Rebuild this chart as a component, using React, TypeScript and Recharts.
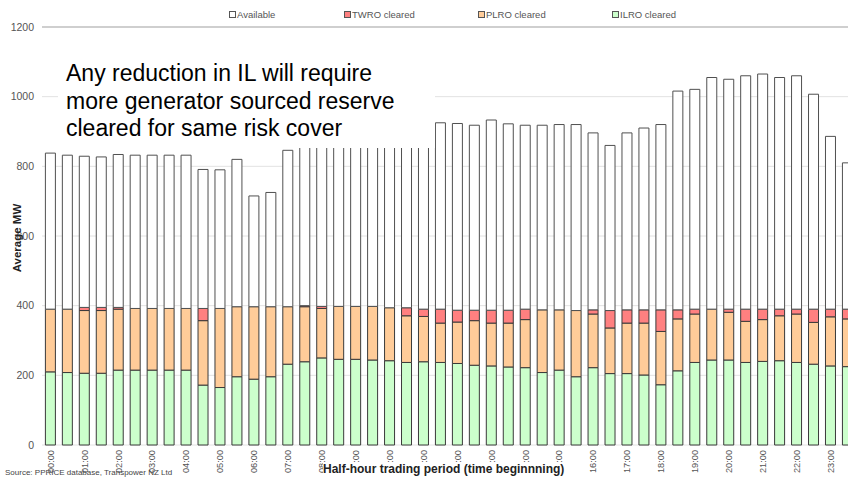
import React from "react";
import { BarChart, Bar, XAxis, YAxis, CartesianGrid, ReferenceLine } from "recharts";

const PERIODS = [
  "00:00", "00:30", "01:00", "01:30", "02:00", "02:30", "03:00", "03:30",
  "04:00", "04:30", "05:00", "05:30", "06:00", "06:30", "07:00", "07:30",
  "08:00", "08:30", "09:00", "09:30", "10:00", "10:30", "11:00", "11:30",
  "12:00", "12:30", "13:00", "13:30", "14:00", "14:30", "15:00", "15:30",
  "16:00", "16:30", "17:00", "17:30", "18:00", "18:30", "19:00", "19:30",
  "20:00", "20:30", "21:00", "21:30", "22:00", "22:30", "23:00", "23:30",
];

// ILRO (interruptible load) cleared, MW
const ILRO = [
  210, 208, 206, 206, 215, 215, 215, 215, 215, 172, 165, 196, 189, 196, 232, 239,
  250, 246, 246, 244, 242, 237, 239, 237, 234, 229, 227, 224, 222, 208, 215, 196,
  222, 205, 205, 201, 173, 213, 237, 244, 244, 237, 240, 242, 237, 232, 227, 225,
];

// PLRO cleared, MW
const PLRO = [
  180, 182, 180, 180, 175, 177, 177, 177, 177, 185, 227, 201, 208, 201, 165, 158,
  142, 152, 152, 154, 152, 134, 130, 113, 119, 128, 123, 126, 138, 180, 173, 190,
  154, 131, 145, 149, 153, 149, 139, 146, 137, 118, 120, 129, 139, 120, 141, 137,
];

// TWRO cleared, MW
const TWRO = [
  0, 0, 9, 9, 5, 0, 0, 0, 0, 35, 0, 0, 0, 0, 0, 3,
  6, 0, 0, 0, 0, 23, 21, 40, 34, 30, 37, 37, 30, 0, 0, 0,
  12, 50, 38, 38, 62, 26, 14, 0, 9, 35, 30, 19, 14, 38, 22, 28,
];

// Available (uncleared) reserve offers, MW
const AVAILABLE = [
  448, 442, 434, 432, 439, 440, 440, 440, 440, 399, 398, 423, 318, 328, 449, 530,
  527, 537, 522, 527, 536, 541, 540, 535, 536, 531, 546, 535, 528, 530, 532, 534,
  508, 474, 508, 522, 532, 628, 631, 665, 660, 670, 675, 665, 670, 617, 496, 420,
];

const Y_TICKS = [0, 200, 400, 600, 800, 1000, 1200];

const LEGEND = [
  { label: "Available", color: "#ffffff", left: 229 },
  { label: "TWRO cleared", color: "#ff8080", left: 344 },
  { label: "PLRO cleared", color: "#ffcc99", left: 478 },
  { label: "ILRO cleared", color: "#ccffcc", left: 612 },
];

const data = PERIODS.map((p, i) => ({
  period: p,
  ilro: ILRO[i],
  plro: PLRO[i],
  twro: TWRO[i],
  available: AVAILABLE[i],
}));

const EDGE_TICKS = PERIODS.map((_, i) => i).concat([PERIODS.length]);

const FONT = '"Liberation Sans", Arial, sans-serif';

function PeriodTick(props: any) {
  const { x, y, payload } = props;
  if (!String(payload.value).endsWith(":00")) return <g />;
  const ty = y + 5;
  return (
    <text
      x={x}
      y={ty}
      dy="0.35em"
      transform={`rotate(-90 ${x} ${ty})`}
      textAnchor="end"
      fontSize={9.2}
      fontFamily={FONT}
      fill="#555"
    >
      {payload.value}
    </text>
  );
}

export default function App() {
  return (
    <div
      style={{
        position: "absolute",
        left: 0,
        top: 0,
        width: 848,
        height: 486,
        overflow: "hidden",
        background: "#fff",
        fontFamily: FONT,
      }}
    >
      <BarChart
        width={880}
        height={486}
        data={data}
        margin={{ top: 27, right: 24, left: 0, bottom: 0 }}
        barCategoryGap="20%"
      >
        <CartesianGrid vertical={false} stroke="#e2e2e2" />
        <ReferenceLine y={1200} stroke="#cfcfcf" strokeWidth={2} />
        <XAxis
          xAxisId="edges"
          type="number"
          domain={[0, PERIODS.length]}
          ticks={EDGE_TICKS}
          tick={false}
          tickSize={4}
          tickLine={{ stroke: "#666" }}
          axisLine={{ stroke: "#888" }}
          height={0}
        />
        <XAxis
          dataKey="period"
          interval={0}
          tick={<PeriodTick />}
          tickLine={false}
          axisLine={false}
          tickSize={0}
          tickMargin={0}
          height={41}
        />
        <YAxis
          domain={[0, 1200]}
          ticks={Y_TICKS}
          axisLine={false}
          tickLine={false}
          width={42}
          tick={{ fontSize: 10.5, fill: "#555", fontFamily: FONT }}
        />
        <Bar dataKey="ilro" stackId="a" fill="#ccffcc" stroke="#3a3a3a" strokeWidth={1} isAnimationActive={false} />
        <Bar dataKey="plro" stackId="a" fill="#ffcc99" stroke="#3a3a3a" strokeWidth={1} isAnimationActive={false} />
        <Bar dataKey="twro" stackId="a" fill="#ff8080" stroke="#3a3a3a" strokeWidth={1} isAnimationActive={false} />
        <Bar dataKey="available" stackId="a" fill="#ffffff" stroke="#505050" strokeWidth={1} isAnimationActive={false} />
      </BarChart>

      {/* legend */}
      {LEGEND.map((item) => (
        <div
          key={item.label}
          style={{
            position: "absolute",
            left: item.left,
            top: 9,
            fontSize: 9.5,
            color: "#555",
            display: "flex",
            alignItems: "center",
            whiteSpace: "nowrap",
          }}
        >
          <span
            style={{
              display: "inline-block",
              width: 5,
              height: 5,
              border: "1px solid #555",
              background: item.color,
              marginRight: 1,
            }}
          />
          {item.label}
        </div>
      ))}

      {/* annotation */}
      <div
        style={{
          position: "absolute",
          left: 58,
          top: 55,
          width: 377,
          height: 93,
          background: "#fff",
        }}
      />
      <div
        style={{
          position: "absolute",
          left: 66,
          top: 60,
          fontSize: 23,
          lineHeight: "27.5px",
          color: "#000",
          whiteSpace: "nowrap",
        }}
      >
        Any reduction in IL will require
        <br />
        more generator sourced reserve
        <br />
        cleared for same risk cover
      </div>

      {/* y axis title */}
      <div
        style={{
          position: "absolute",
          left: 17,
          top: 238,
          transform: "translate(-50%, -50%) rotate(-90deg)",
          fontSize: 11.5,
          fontWeight: "bold",
          color: "#222",
          whiteSpace: "nowrap",
        }}
      >
        Average MW
      </div>

      {/* x axis title */}
      <div
        style={{
          position: "absolute",
          left: 323,
          top: 462,
          fontSize: 12,
          fontWeight: "bold",
          color: "#222",
          background: "#fff",
          whiteSpace: "nowrap",
          lineHeight: "15px",
        }}
      >
        Half-hour trading period (time beginnning)
      </div>

      {/* source */}
      <div
        style={{
          position: "absolute",
          left: 5,
          top: 468,
          fontSize: 8,
          color: "#444",
          whiteSpace: "nowrap",
        }}
      >
        Source: PPRICE database, Transpower NZ Ltd
      </div>
    </div>
  );
}
